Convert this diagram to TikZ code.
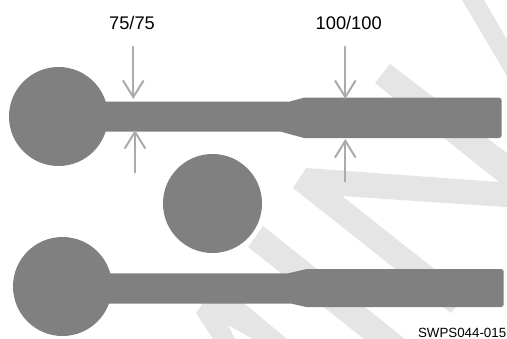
\documentclass[tikz,border=0pt]{standalone}
\usepackage{fontspec}
\setmainfont{Liberation Sans}
\usetikzlibrary{arrows.meta}
\definecolor{tracegray}{HTML}{808080}
\definecolor{markgray}{HTML}{E5E5E5}
\definecolor{arrowgray}{HTML}{ABABAB}
\tikzset{
  trace/.style={fill=tracegray},
  wmark/.style={fill=markgray},
  dimarrow/.style={draw=arrowgray,line width=1.5pt,->},
  dimlabel/.style={anchor=base,inner sep=0pt,font=\fontsize{13.7}{16}\selectfont},
  plotcode/.style={anchor=base east,inner sep=0pt,font=\fontsize{10}{12}\selectfont}
}
\begin{document}
\begin{tikzpicture}[line cap=round,line join=round,>={Straight Barb[length=12.5pt,width=15.5pt]},x=0.75pt,y=-0.75pt]
\clip(0,0) rectangle (507,339);
\fill[white] (0,0) rectangle (507,339);
% watermark
\path[wmark] (462,0)-- (484,0)-- (520,62)-- (520,98)-- cycle;
\path[wmark] (306,168)-- (499,182)-- (375,83)-- (390,64)-- (520,163)-- (520,208)-- (342,196)-- (466,294)-- (451,313)-- (293,188)-- cycle;
\path[wmark] (263,226)-- (248,247)-- (364,339)-- (405,339)-- cycle;
\path[wmark] (196,313)-- (205,300)-- (240,300)-- (287,339)-- (253,339)-- (228,325)-- (235,339)-- (213,339)-- cycle;
% top trace
\path[trace] (58.5,116.5) circle (49.5);
\path[trace] (100,101.7)-- (289,101.7)-- (304,97.7)-- (499,97.7) arc (-90:0:2.7) -- (501.7,135.3) arc (0:90:2.7) -- (304,138)-- (281,131.7)-- (100,131.7)-- cycle;
% loose disc
\path[trace] (212.5,203.5) circle (49.5);
% bottom trace
\path[trace] (62.5,286.5) circle (49.5);
\path[trace] (104,273.3)-- (288,273.3)-- (307,269)-- (501,269) arc (-90:0:2.7) -- (503.7,304.3) arc (0:90:2.7) -- (306,307)-- (291,303.5)-- (104,303.5)-- cycle;
% width arrows
\coordinate (a1s) at (133.3,46.7);
\coordinate (a1e) at (133.3,99);
\coordinate (a2s) at (135,172.5);
\coordinate (a2e) at (135,130);
\coordinate (a3s) at (345.3,46.7);
\coordinate (a3e) at (345.3,99);
\coordinate (a4s) at (345.3,181.5);
\coordinate (a4e) at (345.3,139);
\draw[dimarrow] (a1s)-- (a1e);
\draw[dimarrow] (a2s)-- (a2e);
\draw[dimarrow] (a3s)-- (a3e);
\draw[dimarrow] (a4s)-- (a4e);
\node[dimlabel] (lblnarrow) at (132,29.3) {75/75};
\node[dimlabel] (lblwide) at (348.7,29.3) {100/100};
\node[plotcode] (lblcode) at (506.5,337.5) {SWPS044-015};
\end{tikzpicture}
\end{document}
